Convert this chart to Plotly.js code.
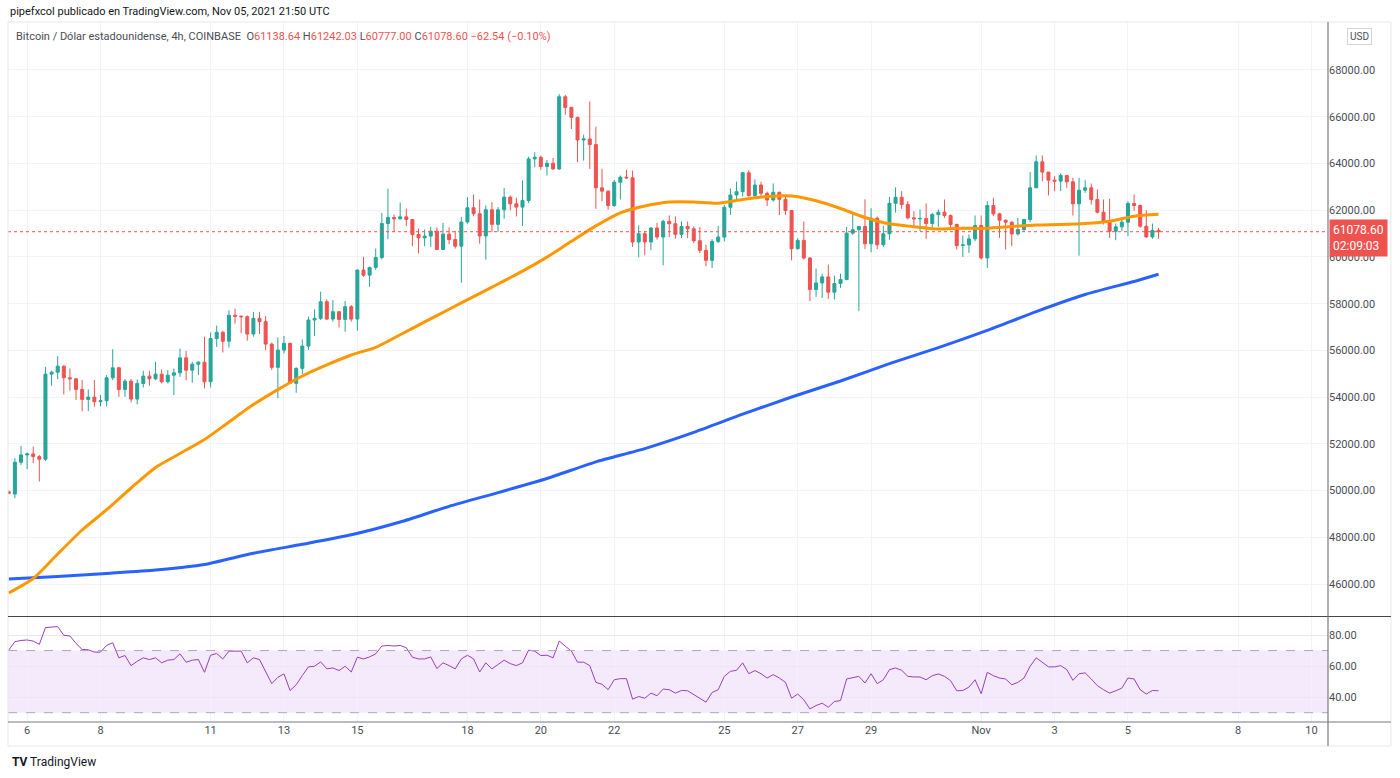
<!DOCTYPE html>
<html>
<head>
<meta charset="utf-8">
<script src="https://cdn.plot.ly/plotly-3.0.1.min.js"></script>
<style>html,body{margin:0;padding:0;background:#fff;}#chart{width:1400px;height:778px;}</style>
</head>
<body>
<div id="chart"></div>
<script>
// ---- DATA (BTC/USD 4h, COINBASE, starting 2021-10-05 12:00) ----
const startTime = "2021-10-05T12:00:00Z";
const opens = [49950,49850,51212,51525,51568,51454,51340,54983,55068,55325,54827,54784,54329,53902,54000,53802,53845,54827,55254,54329,
54684,53916,54585,54898,54784,54983,54656,54940,55040,55680,55154,55410,55495,54656,56506,56776,56392,57502,57460,57440,
56700,57370,57230,56270,55275,56015,56300,54590,55230,56185,57300,57370,58080,57340,57655,57325,57870,57340,59435,59220,
59550,59975,61430,61685,61630,61715,61600,60960,60815,60890,61100,60320,60975,60745,60460,61492,62104,61848,60895,62018,
61393,62018,62559,62274,62132,62416,64194,64265,63867,64009,63767,66853,66398,65972,65005,65047,64806,62957,62815,62203,
63199,63412,63383,60639,60995,60639,61237,60852,61521,61421,60966,61302,61203,60691,60280,59854,60663,60848,62126,62651,
62793,63602,62622,63077,62722,62438,62765,62466,61984,60351,60706,59953,58604,58888,59144,58490,58860,59030,61018,61160,
61302,60564,61657,60521,60990,62296,62552,62243,61671,61629,61643,61429,61814,61914,61771,61386,60486,60514,60771,61343,
59957,62200,61843,61571,61486,60986,61171,61600,62957,64071,63629,63286,63243,63486,63214,62271,62857,62957,62457,61914,
61486,61100,61286,61486,62286,62200,61314,60857,61138.64];
const highs = [50000,51383,51909,51625,51880,51525,55296,55126,55750,55367,55225,54800,54727,54329,54727,54087,54940,56050,55296,54770,
54770,54756,55126,55126,55510,55183,55154,55225,56079,55979,55510,55538,56577,56762,57061,56833,57715,57786,57500,57500,
57650,57650,57470,56330,56555,56615,56330,55275,56470,57440,57755,58510,58180,58150,57660,58110,57940,59460,60005,59580,
60360,61885,62925,61815,62330,62070,61600,61215,61175,61290,61260,61460,61260,61115,61715,62559,62673,62460,62203,62345,
62132,62957,62630,62530,63270,64294,64478,64336,64151,64236,66967,66939,66427,66000,65232,66654,65573,63767,62843,63298,
63483,63725,63696,61350,61108,61279,61450,61592,61777,61734,61515,61515,61302,61274,60521,60762,61330,62225,62935,63219,
63645,63716,63318,63219,62793,63148,62793,62651,62012,60805,61515,59996,59499,59286,59669,59201,59286,61274,61870,61330,
62466,62083,61728,61330,62580,62978,62814,62386,61957,62029,62286,61886,62029,62457,61814,61429,60914,60957,61771,61771,
62386,62529,61886,61600,61529,61671,61629,63629,64343,64343,63629,63457,63571,63486,63386,63386,63286,63143,62886,62457,
62486,61429,61671,62386,62671,62243,62000,61429,61242.03];
const lows = [49850,49675,51098,50914,51170,50387,51270,54485,54770,54115,54272,53873,53400,53400,53586,53600,53600,54727,54016,54016,
53772,53687,54414,54485,54727,54585,54585,54087,54870,54727,54613,54940,54371,54414,56150,55910,56122,57146,56730,56415,
56585,56700,56015,55160,53950,55870,54560,54190,54990,56015,56615,57300,57300,57230,56985,56800,57230,56840,59150,58720,
59435,59890,60760,61060,61600,61315,60460,60150,60460,60430,60290,60290,60545,60360,58900,61421,61734,60568,59885,61066,
61066,61634,61990,61734,61322,62303,63838,63725,63483,63725,63725,66085,65474,64052,64123,63767,62061,62388,62018,62132,
62459,63341,60426,59985,60070,60284,60739,59644,60852,60781,60805,60805,60592,60166,59598,59527,60592,60663,61799,62466,
62580,62580,62580,62580,62182,62367,61799,61799,59854,60308,59882,58107,58292,58249,58206,58178,58675,59001,60947,57681,
60336,60194,60336,60422,60734,61899,62057,61600,61314,61100,60771,61200,61286,61671,61171,60314,60000,60171,60671,59886,
59529,61743,60814,60314,60457,60914,61100,61486,62957,63243,62629,62814,62814,62957,61771,60057,62743,62243,61857,61386,
60814,60714,61100,60886,61957,61243,60814,60771,60777.00];
const closes = [49880,51212,51525,51568,51454,51340,54983,55068,55325,54827,54784,54329,53902,54000,53802,53845,54827,55254,54329,54684,
53916,54585,54898,54784,54983,54656,54940,55040,55680,55154,55410,55495,54656,56506,56776,56392,57502,57460,57440,56700,
57370,57230,56270,55275,56015,56300,54590,55230,56185,57300,57370,58080,57340,57655,57325,57870,57340,59435,59220,59550,
59975,61430,61685,61630,61715,61600,60960,60815,60890,61100,60320,60975,60745,60460,61492,62104,61848,60895,62018,61393,
62018,62559,62274,62132,62416,64194,64265,63867,64009,63767,66853,66398,65972,65005,65047,64806,62957,62815,62203,63199,
63412,63383,60639,60995,60639,61237,60852,61521,61421,60966,61302,61203,60691,60280,59854,60663,60848,62126,62651,62793,
63602,62622,63077,62722,62438,62765,62466,61984,60351,60706,59953,58604,58888,59144,58490,58860,59030,61018,61160,61302,
60564,61657,60521,60990,62296,62552,62243,61671,61629,61643,61429,61814,61914,61771,61386,60486,60514,60771,61343,59957,
62200,61843,61571,61486,60986,61171,61600,62957,64071,63629,63286,63243,63486,63214,62271,62857,62957,62457,61914,61486,
61100,61286,61486,62286,62200,61314,60857,61138.64,61078.60];
const rsi = [70.3,75.7,76.5,76.8,76.1,74.0,84.8,85.0,85.4,79.8,79.4,74.6,70.7,70.5,69.0,69.0,73.3,75.0,65.3,66.8,
60.3,63.1,65.3,64.2,65.3,62.1,63.8,64.2,67.9,62.5,63.8,64.2,56.0,67.0,68.1,64.6,69.6,69.6,69.6,62.1,
65.3,64.2,56.0,48.7,52.8,55.0,44.3,48.0,53.9,59.5,59.9,62.7,58.2,58.8,57.1,59.9,56.2,65.7,64.6,65.9,
67.9,72.9,73.3,72.9,73.3,71.8,65.7,64.6,64.6,65.9,58.4,62.1,60.3,58.2,64.6,67.0,64.6,56.2,62.1,58.2,
61.0,63.8,61.6,60.3,62.1,70.3,69.6,66.8,67.0,65.3,76.1,72.9,69.6,62.5,62.5,60.3,49.5,48.3,44.8,51.2,
51.9,51.9,38.7,40.4,39.3,42.6,40.9,45.2,44.8,42.6,44.3,44.1,41.5,39.3,36.8,43.0,44.8,53.4,56.6,57.3,
62.1,55.1,57.1,55.1,52.3,54.5,52.3,49.5,39.3,42.0,38.3,32.4,34.6,36.1,33.5,37.2,37.8,51.7,52.8,53.4,
49.1,55.1,48.7,51.2,57.7,58.8,57.3,53.4,53.0,53.0,51.2,53.8,54.9,53.4,50.6,44.1,44.3,46.5,51.2,42.2,
56.0,53.8,52.3,51.7,48.0,49.5,52.3,59.9,65.3,62.1,59.5,59.5,60.3,57.7,50.8,55.1,55.6,51.7,47.4,44.8,
42.6,44.1,45.8,52.3,51.7,44.8,42.0,44.3,44.1];
// moving averages read at candle indices
const ma50Idx = [0,4,8,12,16,20,24,28,32,36,40,44,48,52,56,60,64,68,72,76,80,84,88,92,96,100,104,108,112,116,120,124,128,132,136,140,144,148,152,156,160,164,168,172,176,180,184,188];
const ma50 = [45616,46237,47285,48312,49180,50110,50991,51586,52185,52934,53680,54321,54903,55378,55802,56127,56667,57219,57762,58302,58841,59389,59992,60668,61327,61888,62179,62350,62350,62300,62457,62586,62607,62402,62072,61687,61417,61294,61195,61224,61224,61302,61370,61387,61426,61524,61743,61824];
const ma200Idx = [0,8,16,24,32,40,48,56,64,72,80,88,96,104,112,120,128,136,144,152,160,168,176,184,188];
const ma200 = [46215,46318,46455,46600,46835,47315,47700,48107,48654,49326,49913,50516,51231,51796,52490,53268,54004,54689,55434,56119,56855,57660,58391,58948,59256];
// axis ticks
const xTickVals = ["2021-10-06","2021-10-08","2021-10-11","2021-10-13","2021-10-15","2021-10-18","2021-10-20","2021-10-22","2021-10-25","2021-10-27","2021-10-29","2021-11-01","2021-11-03","2021-11-05","2021-11-08","2021-11-10"];
const xTickText = ["6","8","11","13","15","18","20","22","25","27","29","Nov","3","5","8","10"];
const priceTicks = [46000,48000,50000,52000,54000,56000,58000,60000,62000,64000,66000,68000];
const rsiTicks = [40,60,80];
const header = {symbol:"Bitcoin / Dólar estadounidense, 4h, COINBASE", o:"61138.64", h:"61242.03", l:"60777.00", c:"61078.60", chg:"−62.54 (−0.10%)"};
const countdown = "02:09:03";

// ---- BUILD ----
const t0 = Date.parse(startTime);
const fmt = ms => new Date(ms).toISOString().slice(0,16).replace('T',' ');
const dates = opens.map((_, i) => fmt(t0 + i*4*3600e3));
const lastClose = closes[closes.length-1];

const GREEN = '#26a69a', RED = '#ef5350';
const FONT = 'Trebuchet MS, Roboto, "Noto Sans", sans-serif';
const XR = 1.0477;   // right edge of the price-scale column (paper units)

const traces = [
  {type:'candlestick', x:dates, open:opens, high:highs, low:lows, close:closes,
   xaxis:'x', yaxis:'y', whiskerwidth:0, hoverinfo:'skip',
   increasing:{line:{color:GREEN, width:1}, fillcolor:GREEN},
   decreasing:{line:{color:RED, width:1}, fillcolor:RED}},
  {type:'scatter', mode:'lines', x:ma200Idx.map(i=>dates[i]), y:ma200, xaxis:'x', yaxis:'y',
   line:{color:'#2962ff', width:3, shape:'spline', smoothing:0.6}, hoverinfo:'skip'},
  {type:'scatter', mode:'lines', x:ma50Idx.map(i=>dates[i]), y:ma50, xaxis:'x', yaxis:'y',
   line:{color:'#ff9800', width:3, shape:'spline', smoothing:0.6}, hoverinfo:'skip'},
  {type:'scatter', mode:'lines', x:dates, y:rsi, xaxis:'x', yaxis:'y2',
   line:{color:'#9b3fbf', width:1}, hoverinfo:'skip'}
];

const gridc = '#f0f3fa';
const layout = {
  width:1400, height:778,
  margin:{l:8, r:72, t:22, b:56},
  paper_bgcolor:'#ffffff', plot_bgcolor:'#ffffff',
  showlegend:false,
  font:{family:FONT, size:11, color:'#131722'},
  xaxis:{type:'date', range:["2021-10-05 11:30","2021-11-10 10:50"], anchor:'y2',
    tickvals:xTickVals, ticktext:xTickText, ticks:'', showgrid:true, gridcolor:gridc,
    showline:false, zeroline:false,
    tickfont:{family:FONT, size:11, color:'#4a4d57'}, rangeslider:{visible:false}, fixedrange:true},
  yaxis:{domain:[0.1514,1], range:[44631,70054], side:'right', anchor:'x',
    tickvals:priceTicks, ticktext:priceTicks.map(v=>v.toFixed(2)), ticks:'', showgrid:true, gridcolor:gridc,
    showline:false, zeroline:false,
    tickfont:{family:FONT, size:11, color:'#4a4d57'}, fixedrange:true},
  yaxis2:{domain:[0,0.15], range:[24,91.6], side:'right', anchor:'x',
    tickvals:rsiTicks, ticktext:rsiTicks.map(v=>v.toFixed(2)), ticks:'', showgrid:true, gridcolor:'#ece6f4',
    showline:false, zeroline:false,
    tickfont:{family:FONT, size:11, color:'#4a4d57'}, fixedrange:true},
  shapes:[
    {type:'rect', xref:'paper', x0:0, x1:1, yref:'y2', y0:30, y1:70, fillcolor:'rgba(200,140,240,0.18)', line:{width:0}, layer:'below'},
    {type:'line', xref:'paper', x0:0, x1:1, yref:'y2', y0:70, y1:70, line:{color:'#b0a8bc', width:1, dash:'dash'}},
    {type:'line', xref:'paper', x0:0, x1:1, yref:'y2', y0:30, y1:30, line:{color:'#b0a8bc', width:1, dash:'dash'}},
    {type:'line', xref:'paper', x0:0, x1:1, yref:'y', y0:lastClose, y1:lastClose, line:{color:RED, width:1, dash:'dot'}},
    // outer frame
    {type:'rect', xref:'paper', x0:0, x1:XR, yref:'paper', y0:-0.0343, y1:1, line:{color:'#e6e8ee', width:1}, fillcolor:'rgba(0,0,0,0)'},
    // pane separator
    {type:'line', xref:'paper', x0:0, x1:XR, yref:'paper', y0:0.1507, y1:0.1507, line:{color:'#434651', width:1.2}},
    // time axis line
    {type:'line', xref:'paper', x0:0, x1:XR, yref:'paper', y0:0, y1:0, line:{color:'#787b86', width:1.2}},
    // price axis line
    {type:'line', xref:'paper', x0:1, x1:1, yref:'paper', y0:-0.0343, y1:1, line:{color:'#787b86', width:1.2}}
  ],
  annotations:[
    {xref:'paper', yref:'paper', x:0, y:1.0143, xanchor:'left', yanchor:'middle', xshift:0, showarrow:false,
     text:'pipefxcol publicado en TradingView.com, Nov 05, 2021 21:50 UTC', font:{family:FONT, size:11, color:'#131722'}},
    {xref:'paper', yref:'paper', x:0, y:0.9786, xanchor:'left', yanchor:'middle', xshift:6, showarrow:false,
     text: header.symbol + '  O<span style="color:'+RED+'">'+header.o+'</span> H<span style="color:'+RED+'">'+header.h+
       '</span> L<span style="color:'+RED+'">'+header.l+'</span> C<span style="color:'+RED+'">'+header.c+
       '</span> <span style="color:'+RED+'">'+header.chg+'</span>',
     font:{family:FONT, size:11, color:'#4a4d57'}},
    {xref:'paper', yref:'y', x:1, y:lastClose, xanchor:'left', yanchor:'middle', xshift:1, yshift:-6, showarrow:false,
     text: lastClose.toFixed(2)+'<br>'+countdown, bgcolor:RED, borderpad:3, align:'left',
     font:{family:FONT, size:12, color:'#ffffff'}},
    {xref:'paper', yref:'paper', x:1, y:0.9786, xanchor:'left', yanchor:'middle', xshift:19, showarrow:false,
     text:'USD', bordercolor:'#d1d4dc', borderwidth:1, borderpad:2, bgcolor:'#ffffff',
     font:{family:FONT, size:10, color:'#4a4d57'}},
    {xref:'paper', yref:'paper', x:0, y:-0.057, xanchor:'left', yanchor:'middle', xshift:2, showarrow:false,
     text:'<b>TV</b> TradingView', font:{family:FONT, size:12, color:'#131722'}}
  ]
};

Plotly.newPlot('chart', traces, layout, {staticPlot:true, displayModeBar:false});
</script>
</body>
</html>
